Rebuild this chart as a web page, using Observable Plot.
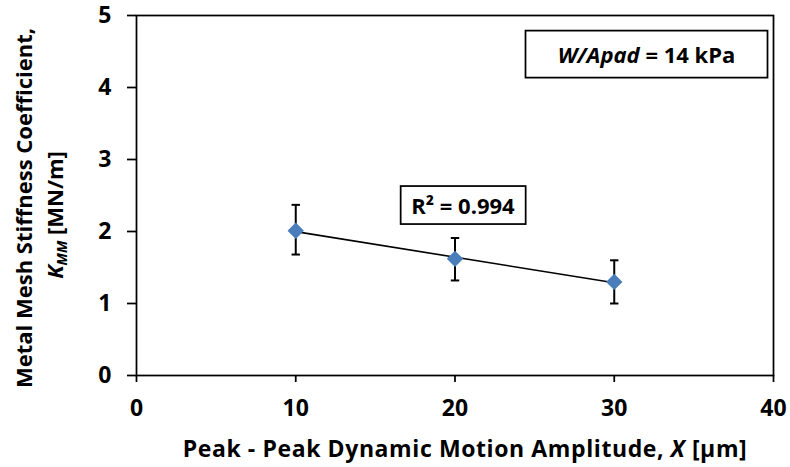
<!DOCTYPE html>
<html><head><meta charset="utf-8">
<script src="https://cdn.jsdelivr.net/npm/d3@7"></script>
<script src="https://cdn.jsdelivr.net/npm/@observablehq/plot@0.6"></script>
<style>body{margin:0;background:#fff} svg{display:block}</style>
</head><body><div id="chart"></div>
<script>
const amplitude = [10, 20, 30];
const stiffness = [2.01, 1.62, 1.30];
const errLow = [1.68, 1.32, 1.00];
const errHigh = [2.37, 1.91, 1.60];
const xTicks = [0, 10, 20, 30, 40];
const yTicks = [0, 1, 2, 3, 4, 5];
const r2Text = "R² = 0.994";
const loadItalic = "W/Apad";
const loadRest = " = 14 kPa";
const xTitle = "Peak - Peak Dynamic Motion Amplitude, ";
const yTitle1 = "Metal Mesh Stiffness Coefficient,";

const data = amplitude.map((x, i) => ({x, y: stiffness[i], lo: errLow[i], hi: errHigh[i]}));

const capSymbol = {draw(ctx, size) { const r = Math.sqrt(size / Math.PI); ctx.moveTo(-r, 0); ctx.lineTo(r, 0); }};
const font = "'Open Sans', Lato, sans-serif";

const plot = Plot.plot({
  width: 790, height: 467,
  marginLeft: 136, marginRight: 17, marginTop: 15, marginBottom: 92,
  style: {fontFamily: font, fontSize: "23px", fontWeight: "bold", color: "#000", background: "#fff"},
  x: {domain: [0, 40]},
  y: {domain: [0, 5]},
  marks: [
    Plot.frame({stroke: "#000", strokeWidth: 1.75}),
    Plot.axisX({ticks: xTicks, tickSize: 7, tickPadding: 17, label: null, tickFormat: d => String(d), strokeWidth: 1.75}),
    Plot.axisY({ticks: yTicks, tickSize: 9, tickPadding: 16, label: null, tickFormat: d => String(d), strokeWidth: 1.75}),
    Plot.linearRegressionY(data, {x: "x", y: "y", ci: 0, stroke: "#000", strokeWidth: 1.6}),
    Plot.ruleX(data, {x: "x", y1: "lo", y2: "hi", stroke: "#000", strokeWidth: 2}),
    Plot.dot(data, {x: "x", y: "lo", symbol: capSymbol, r: 4.2, stroke: "#000", fill: "none", strokeWidth: 2}),
    Plot.dot(data, {x: "x", y: "hi", symbol: capSymbol, r: 4.2, stroke: "#000", fill: "none", strokeWidth: 2}),
    Plot.dot(data, {x: "x", y: "y", symbol: "diamond2", r: 7.4, fill: "#4a7ebb", stroke: "none"}),
    Plot.text([r2Text], {x: 20.5, y: 2.34, text: d => d, fontSize: 22, fontWeight: "bold", fill: "#000"}),
    Plot.text([loadItalic + loadRest], {frameAnchor: "top-right", dx: -127, dy: 32, text: d => d, textAnchor: "middle", fontSize: 22, fontWeight: "bold", fill: "#000"})
  ]
});
document.getElementById("chart").appendChild(plot);
const svg = d3.select(plot);

const textGroups = svg.selectAll('g[aria-label="text"]').nodes();
const r2Node = d3.select(textGroups[0]).select("text");
const lt = d3.select(textGroups[1]).select("text");

// mixed italic text in load box
lt.text(null);
lt.append("tspan").attr("font-style", "italic").text(loadItalic);
lt.append("tspan").text(loadRest);

function boxAround(sel, w, h) {
  const node = sel.node();
  const b = node.getBBox();
  const g = d3.select(node.parentNode);
  const tr = node.getAttribute("transform");
  const cx = b.x + b.width / 2, cy = b.y + b.height / 2;
  g.insert("rect", "text")
    .attr("transform", tr)
    .attr("x", cx - w / 2).attr("y", cy - h / 2)
    .attr("width", w).attr("height", h)
    .attr("fill", "#fff").attr("stroke", "#000").attr("stroke-width", 1.75);
}
boxAround(r2Node, 125, 38);
boxAround(lt, 242, 47);

// axis titles
const xt = svg.append("text")
  .attr("x", 465).attr("y", 457)
  .attr("text-anchor", "middle")
  .attr("letter-spacing", 0.6)
  .attr("font-family", font).attr("font-size", 23).attr("font-weight", "bold").attr("fill", "#000");
xt.append("tspan").text(xTitle);
xt.append("tspan").attr("font-style", "italic").text("X");
xt.append("tspan").text(" [μm]");

svg.append("text")
  .attr("transform", "translate(32,208) rotate(-90)")
  .attr("text-anchor", "middle")
  .attr("font-family", font).attr("font-size", 22).attr("font-weight", "bold").attr("fill", "#000")
  .text(yTitle1);
const y2 = svg.append("text")
  .attr("transform", "translate(63,215) rotate(-90)")
  .attr("text-anchor", "middle")
  .attr("font-family", font).attr("font-size", 22).attr("font-weight", "bold").attr("fill", "#000");
y2.append("tspan").attr("font-style", "italic").text("K");
y2.append("tspan").attr("font-style", "italic").attr("font-size", 14).attr("dy", 4).text("MM");
y2.append("tspan").attr("dy", -4).text(" [MN/m]");
</script>
</body></html>
